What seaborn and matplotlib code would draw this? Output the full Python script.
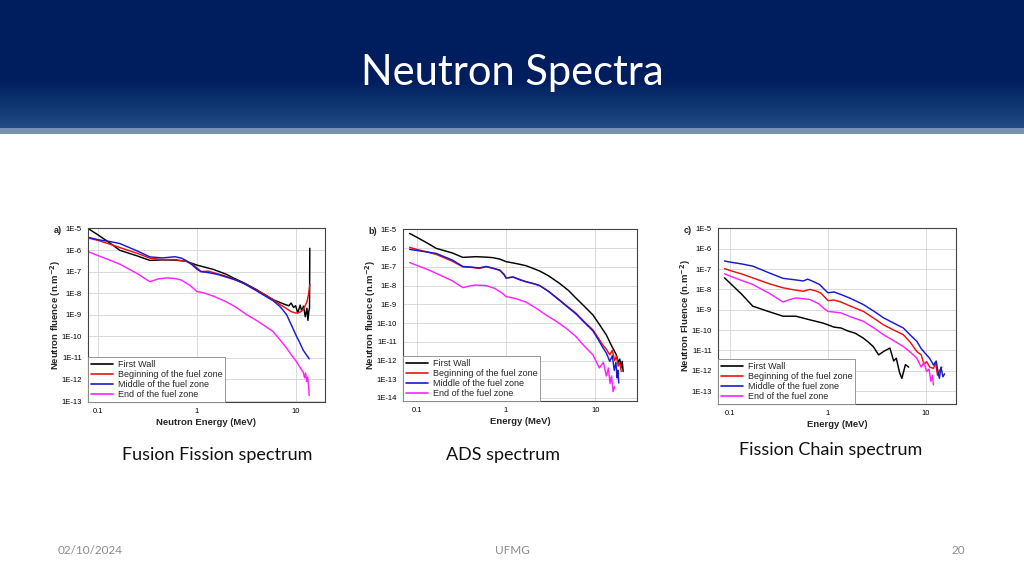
import numpy as np
import matplotlib
matplotlib.use("Agg")
import matplotlib.pyplot as plt
from matplotlib.ticker import FixedLocator, LogLocator, NullFormatter
import seaborn as sns

# ---- data (energy in MeV, fluence in n/m^2) ----
series_names = ["First Wall", "Beginning of the fuel zone",
                "Middle of the fuel zone", "End of the fuel zone"]
series_colors = ["#000000", "#ee1111", "#1a1acc", "#ff22ff"]

# a) Fusion Fission
a_fw_e = [0.081, 0.10, 0.13, 0.166, 0.25, 0.334, 0.45, 0.6, 0.78, 1.0, 1.47, 2.0, 2.33, 3.0, 4.0,
          5.9, 7.5, 8.5, 9.0, 9.5, 10.0, 10.5, 11.1, 11.5, 12.0, 12.5, 13.0, 13.3, 13.6, 13.8, 13.9]
a_fw_f = [9.3e-6, 5e-6, 2.2e-6, 9.7e-7, 5.3e-7, 3.3e-7, 3.5e-7, 3.4e-7, 3.0e-7, 2.0e-7, 1.26e-7,
          7.4e-8, 5.1e-8, 3e-8, 1.47e-8, 5e-9, 3.2e-9, 2.6e-9, 3.5e-9, 2.2e-9, 2.6e-9, 1.2e-9,
          2.8e-9, 1.5e-9, 2.5e-9, 8e-10, 2e-9, 5.5e-10, 1.5e-9, 2e-9, 1.2e-6]
a_bf_e = [0.081, 0.10, 0.13, 0.166, 0.25, 0.334, 0.45, 0.6, 0.78, 0.9, 1.0, 1.1, 1.3, 1.6, 2.0,
          2.5, 3.0, 4.0, 5.0, 5.9, 7.0, 8.1, 9.0, 10.0, 11.0, 12.0, 13.0, 13.5, 13.9]
a_bf_f = [3.5e-6, 2.8e-6, 1.9e-6, 1.3e-6, 7e-7, 4.2e-7, 3.6e-7, 3.6e-7, 3.0e-7, 2.2e-7, 1.5e-7,
          1.0e-7, 1.05e-7, 8e-8, 6e-8, 4e-8, 2.8e-8, 1.4e-8, 8e-9, 5e-9, 2.9e-9, 1.9e-9, 1.4e-9,
          1.2e-9, 1.3e-9, 1.8e-9, 4e-9, 9e-9, 2.5e-8]
a_mf_e = [0.081, 0.10, 0.13, 0.166, 0.25, 0.334, 0.45, 0.6, 0.7, 0.8, 0.9, 1.0, 1.1, 1.3, 1.6,
          2.0, 2.5, 3.0, 4.0, 5.0, 5.9, 7.0, 8.1, 9.0, 10.2, 11.0, 11.9, 12.8, 13.7]
a_mf_f = [3.8e-6, 3.0e-6, 2.5e-6, 2.0e-6, 9e-7, 4.8e-7, 4.3e-7, 4.9e-7, 4.2e-7, 3.0e-7, 2.0e-7,
          1.3e-7, 1.0e-7, 9e-8, 7.5e-8, 5.5e-8, 4e-8, 2.8e-8, 1.3e-8, 7e-9, 4.5e-9, 2.3e-9, 1.0e-9,
          3.5e-10, 1.0e-10, 5e-11, 2.3e-11, 1.4e-11, 9e-12]
a_ef_e = [0.081, 0.10, 0.13, 0.166, 0.25, 0.334, 0.4, 0.49, 0.6, 0.7, 0.85, 1.0, 1.2, 1.5, 2.0,
          2.5, 3.2, 4.0, 5.0, 5.9, 7.0, 8.1, 9.0, 10.2, 11.0, 11.9, 12.3, 12.6, 12.9, 13.2, 13.5, 13.7]
a_ef_f = [8.1e-7, 5.5e-7, 3.5e-7, 2.2e-7, 8e-8, 3.4e-8, 4.5e-8, 5.1e-8, 4.8e-8, 4.0e-8, 2.3e-8,
          1.2e-8, 1.0e-8, 7e-9, 3.9e-9, 2.2e-9, 1.0e-9, 5.5e-10, 2.8e-10, 1.66e-10, 6.5e-11,
          2.8e-11, 1.4e-11, 6.6e-12, 3.8e-12, 2.2e-12, 1.2e-12, 2.0e-12, 8e-13, 1.3e-12, 5e-13, 1.8e-13]

# b) ADS
b_fw_e = [0.083, 0.1, 0.13, 0.165, 0.25, 0.328, 0.46, 0.6, 0.71, 0.85, 1.0, 1.3, 1.68, 2.38, 3.0,
          3.98, 5.0, 6.1, 7.5, 9.4, 11.0, 13.3, 15.0, 17.2, 18.0, 18.8, 19.4, 20.0, 20.5]
b_fw_f = [6.1e-6, 3.8e-6, 1.9e-6, 9.7e-7, 5.5e-7, 3.2e-7, 3.5e-7, 3.3e-7, 3.1e-7, 2.6e-7, 1.9e-7,
          1.5e-7, 1.15e-7, 6e-8, 3.3e-8, 1.3e-8, 5.5e-9, 2.1e-9, 8e-10, 2.7e-10, 9e-11, 2.3e-11,
          7e-12, 2e-12, 8e-13, 1.2e-12, 4e-13, 9e-13, 2.6e-13]
b_bf_e = [0.083, 0.1, 0.13, 0.165, 0.25, 0.328, 0.4, 0.5, 0.6, 0.7, 0.85, 0.95, 1.0, 1.2, 1.4,
          1.68, 2.0, 2.38, 3.0, 3.98, 5.0, 6.1, 7.5, 9.4, 10.8, 12.1, 13.3, 14.5, 15.5, 16.5,
          17.3, 18.0, 18.8, 19.5]
b_bf_f = [1.1e-6, 8.5e-7, 6.3e-7, 4.6e-7, 2e-7, 1.0e-7, 9.5e-8, 8.3e-8, 1e-7, 8.5e-8, 6.8e-8,
          4e-8, 2.6e-8, 2.8e-8, 2.2e-8, 1.6e-8, 1.3e-8, 1e-8, 5e-9, 1.7e-9, 7e-10, 3.3e-10,
          1.2e-10, 4.3e-11, 1.6e-11, 6.9e-12, 4e-12, 2e-12, 3.5e-12, 1e-12, 1.8e-12, 5e-13,
          8e-13, 2.6e-13]
b_mf_e = [0.083, 0.1, 0.13, 0.165, 0.25, 0.328, 0.4, 0.5, 0.6, 0.7, 0.85, 0.95, 1.0, 1.2, 1.4,
          1.68, 2.0, 2.38, 3.0, 3.98, 5.0, 6.1, 7.5, 9.4, 10.8, 12.1, 13.3, 14.5, 15.5, 16.3,
          17.0, 17.5, 17.9, 18.3]
b_mf_f = [8.6e-7, 7.5e-7, 6.2e-7, 5.2e-7, 2.3e-7, 1.05e-7, 9.8e-8, 8.8e-8, 1.05e-7, 8.8e-8,
          6.5e-8, 3.8e-8, 2.5e-8, 2.9e-8, 2.1e-8, 1.6e-8, 1.3e-8, 1e-8, 4.8e-9, 1.6e-9, 6.5e-10,
          3e-10, 1.1e-10, 3.8e-11, 1.3e-11, 5e-12, 2.5e-12, 9e-13, 1.8e-12, 3e-13, 8e-13,
          1.2e-13, 3e-13, 6.3e-14]
b_ef_e = [0.083, 0.1, 0.13, 0.165, 0.25, 0.328, 0.4, 0.46, 0.6, 0.75, 0.9, 1.0, 1.3, 1.68, 2.2,
          2.8, 3.6, 4.7, 6.0, 7.3, 9.4, 11.1, 12.3, 13.3, 14.0, 14.6, 15.2, 15.8, 16.4]
b_ef_f = [1.7e-7, 1.2e-7, 7.5e-8, 4.5e-8, 1.8e-8, 7.8e-9, 9.8e-9, 1.07e-8, 1e-8, 7e-9, 4e-9,
          2.6e-9, 2e-9, 1.3e-9, 6e-10, 2.7e-10, 1.3e-10, 5.3e-11, 2e-11, 6.9e-12, 2e-12, 4e-13,
          8e-13, 1.5e-13, 4e-13, 6e-14, 1.5e-13, 2.2e-14, 4e-14]

# c) Fission chain
c_fw_e = [0.0875, 0.1, 0.13, 0.17, 0.25, 0.347, 0.47, 0.65, 0.89, 1.0, 1.15, 1.36, 1.6, 1.9, 2.3,
          2.6, 2.9, 3.3, 3.7, 4.3, 4.7, 5.0, 5.4, 5.7, 6.2, 6.7]
c_fw_f = [3.7e-8, 2e-8, 6e-9, 1.5e-9, 8e-10, 4.8e-10, 4.8e-10, 3.2e-10, 2.2e-10, 1.8e-10, 1.4e-10,
          1.26e-10, 9e-11, 7e-11, 4e-11, 2.5e-11, 1.55e-11, 6e-12, 8.8e-12, 1.3e-11, 3e-12,
          4.1e-12, 8e-13, 4.2e-13, 2e-12, 1.5e-12]
c_bf_e = [0.0875, 0.1, 0.13, 0.17, 0.25, 0.347, 0.45, 0.56, 0.65, 0.75, 0.85, 1.0, 1.15, 1.36,
          1.7, 2.3, 3.0, 3.7, 4.7, 5.9, 7.0, 8.1, 9.0, 9.6, 10.2, 11.0, 12.0, 12.6, 13.2, 14.0, 14.6]
c_bf_f = [1.05e-7, 8.5e-8, 5.8e-8, 3.7e-8, 1.9e-8, 1.2e-8, 9.5e-9, 8.1e-9, 1e-8, 8.5e-9, 6.5e-9,
          2.8e-9, 3e-9, 2.4e-9, 1.5e-9, 8.3e-10, 3.6e-10, 1.8e-10, 1e-10, 5.9e-11, 2.4e-11,
          8.8e-12, 6e-12, 2e-12, 2.8e-12, 1.5e-12, 1.3e-12, 2.5e-12, 6e-13, 1.1e-12, 1.5e-12]
c_mf_e = [0.0875, 0.1, 0.13, 0.17, 0.25, 0.347, 0.45, 0.56, 0.62, 0.7, 0.82, 0.92, 1.0, 1.15,
          1.36, 1.7, 2.3, 3.0, 3.7, 4.7, 5.9, 7.0, 8.1, 9.0, 10.2, 11.0, 12.0, 12.8, 13.4, 13.8,
          14.3, 15.0, 15.6]
c_mf_f = [2.5e-7, 2.2e-7, 1.8e-7, 1.4e-7, 6.5e-8, 3.5e-8, 3e-8, 2.6e-8, 3.2e-8, 2.5e-8, 1.75e-8,
          1e-8, 6.8e-9, 7.5e-9, 5.6e-9, 3.6e-9, 1.8e-9, 8e-10, 4e-10, 2.2e-10, 1.26e-10, 5.5e-11,
          2.8e-11, 1.2e-11, 6e-12, 4e-12, 1.9e-12, 3e-12, 8e-13, 4.2e-13, 1.5e-12, 5e-13, 7e-13]
c_ef_e = [0.0875, 0.1, 0.13, 0.17, 0.25, 0.347, 0.4, 0.47, 0.65, 0.8, 0.9, 1.0, 1.36, 1.7, 2.3,
          3.0, 3.7, 4.7, 5.9, 7.0, 8.1, 9.0, 9.6, 10.2, 10.8, 11.3, 11.7, 12.0]
c_ef_f = [5.9e-8, 4.5e-8, 2.8e-8, 1.75e-8, 6.5e-9, 2.4e-9, 3.1e-9, 3.8e-9, 3.2e-9, 2e-9, 1.2e-9,
          8.3e-10, 7e-10, 4.5e-10, 2.7e-10, 1.2e-10, 5.9e-11, 3e-11, 1.55e-11, 8e-12, 4.1e-12,
          1.5e-12, 2.5e-12, 9e-13, 1.2e-12, 3e-13, 6e-13, 2e-13]

x_ticks = [0.1, 1, 10]
x_tick_labels = ["0.1", "1", "10"]
a_y_exp = [-13, -12, -11, -10, -9, -8, -7, -6, -5]
b_y_exp = [-14, -13, -12, -11, -10, -9, -8, -7, -6, -5]
c_y_exp = [-13, -12, -11, -10, -9, -8, -7, -6, -5]

captions = ["Fusion Fission spectrum", "ADS spectrum", "Fission Chain spectrum"]

# ---- style ----
sns.set_theme(style="white")
plt.rcParams["font.family"] = ["Liberation Sans", "DejaVu Sans"]

fig = plt.figure(figsize=(10.24, 5.76), dpi=100)

# slide background: navy header with a soft gradient and a light stripe
bg = fig.add_axes([0, 0, 1, 1], zorder=-10)
top = np.array([0, 30, 94]) / 255
low = np.array([33, 76, 132]) / 255
stripe = np.array([118, 145, 180]) / 255
img = np.ones((576, 1, 3))
for r in range(576):
    if r < 128:
        t = np.clip((r - 80) / 48, 0, 1)
        img[r, 0] = top + (low - top) * t
    elif r < 134:
        img[r, 0] = stripe
bg.imshow(img, aspect="auto", extent=[0, 1, 0, 1])
bg.axis("off")

fig.text(0.5, 1 - 73 / 576, "Neutron Spectra", color="white", fontsize=30,
         family="Lato", ha="center", va="center")


def draw_panel(rect, e_list, f_list, xlim, ylim, y_exp, xlabel, ylabel, letter):
    ax = fig.add_axes(rect)
    ax.set_xscale("log")
    ax.set_yscale("log")
    for e, f, name, col in zip(e_list, f_list, series_names, series_colors):
        sns.lineplot(x=e, y=f, ax=ax, color=col, lw=1.05, label=name,
                     estimator=None, sort=False)
    ax.set_xlim(*xlim)
    ax.set_ylim(*ylim)
    ax.xaxis.set_major_locator(FixedLocator(x_ticks))
    ax.set_xticklabels(x_tick_labels)
    ax.xaxis.set_minor_locator(LogLocator(base=10, subs=np.arange(2, 10)))
    ax.xaxis.set_minor_formatter(NullFormatter())
    ax.yaxis.set_major_locator(FixedLocator([10.0 ** k for k in y_exp]))
    ax.set_yticklabels(["1E%d" % k for k in y_exp])
    ax.yaxis.set_minor_locator(FixedLocator([]))
    ax.grid(True, which="major", color="#d4d4d4", lw=0.6)
    ax.tick_params(axis="both", which="major", labelsize=5.5, length=2.5, width=0.6,
                   pad=2, direction="out", colors="#333333", labelcolor="black")
    ax.tick_params(axis="x", which="minor", length=1.5, width=0.5, direction="in",
                   colors="#555555")
    for s in ax.spines.values():
        s.set_color("#444444")
        s.set_linewidth(0.8)
    ax.set_xlabel(xlabel, fontsize=6.8, fontweight="bold", labelpad=2)
    ax.set_ylabel(ylabel, fontsize=6.8, fontweight="bold", labelpad=2)
    ax.yaxis.set_label_coords(-0.105, 0.5)
    leg = ax.legend(loc="lower left", fontsize=6.5, frameon=True, fancybox=False,
                    edgecolor="#888888", framealpha=1, borderaxespad=0.0,
                    handlelength=2.5, handletextpad=0.5, labelspacing=0.12,
                    borderpad=0.3)
    leg.get_frame().set_linewidth(0.6)
    for line in leg.get_lines():
        line.set_linewidth(1.2)
    ax.text(-0.11, 0.985, letter, transform=ax.transAxes, fontsize=6.5,
            fontweight="bold", ha="right", va="center")
    return ax


draw_panel([88 / 1024, 1 - 402 / 576, 237 / 1024, 174 / 576],
           [a_fw_e, a_bf_e, a_mf_e, a_ef_e], [a_fw_f, a_bf_f, a_mf_f, a_ef_f],
           (0.079, 19.8), (9e-14, 1.05e-5), a_y_exp,
           "Neutron Energy (MeV)", "Neutron fluence (n.m$^{\\mathbf{-2}}$)", "a)")
draw_panel([403 / 1024, 1 - 401 / 576, 234 / 1024, 172 / 576],
           [b_fw_e, b_bf_e, b_mf_e, b_ef_e], [b_fw_f, b_bf_f, b_mf_f, b_ef_f],
           (0.07, 29.3), (6.9e-15, 1.05e-5), b_y_exp,
           "Energy (MeV)", "Neutron fluence (n.m$^{\\mathbf{-2}}$)", "b)")
draw_panel([718 / 1024, 1 - 404 / 576, 238 / 1024, 176 / 576],
           [c_fw_e, c_bf_e, c_mf_e, c_ef_e], [c_fw_f, c_bf_f, c_mf_f, c_ef_f],
           (0.075, 20.4), (2.3e-14, 1.05e-5), c_y_exp,
           "Energy (MeV)", "Neutron Fluence (n.m$^{\\mathbf{-2}}$)", "c)")

# captions under the charts
fig.text(217 / 1024, 1 - 455 / 576, captions[0], fontsize=13, family="Lato",
         ha="center", va="center", color="#111111")
fig.text(503 / 1024, 1 - 455 / 576, captions[1], fontsize=13, family="Lato",
         ha="center", va="center", color="#111111")
fig.text(831 / 1024, 1 - 450 / 576, captions[2], fontsize=13, family="Lato",
         ha="center", va="center", color="#111111")

# footer
fig.text(58 / 1024, 1 - 550 / 576, "02/10/2024", fontsize=8.5, family="Lato",
         ha="left", va="center", color="#8c8c8c")
fig.text(512 / 1024, 1 - 550 / 576, "UFMG", fontsize=8.5, family="Lato",
         ha="center", va="center", color="#8c8c8c")
fig.text(965 / 1024, 1 - 550 / 576, "20", fontsize=8.5, family="Lato",
         ha="right", va="center", color="#8c8c8c")

fig.savefig("out.png", dpi=100)
